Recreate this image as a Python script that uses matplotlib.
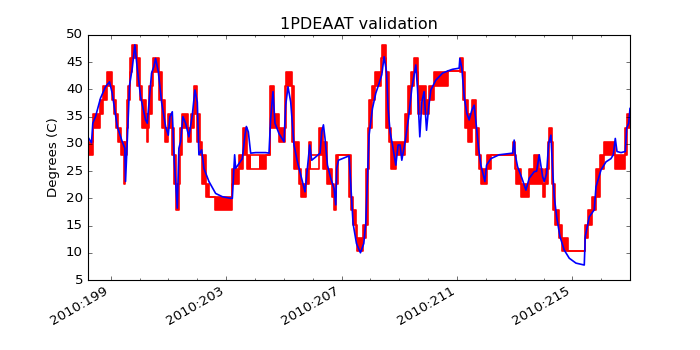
import matplotlib
matplotlib.use("Agg")
import matplotlib.pyplot as plt
from matplotlib.ticker import FixedLocator, MultipleLocator, FuncFormatter

plt.style.use("classic")

title = "1PDEAAT validation"
ylabel = "Degrees (C)"
year = 2010
major_days = [199, 203, 207, 211, 215]
xlim = (198.195, 216.995)

# telemetry (red): quantised steps; where it toggles between two
# levels the segment gets a low and a high value
red_t = [198.195, 198.369, 198.612, 198.716, 198.854, 199.028, 199.115, 199.184, 199.253, 199.340,
         199.444, 199.503, 199.548, 199.600, 199.670, 199.746, 199.912, 199.999, 200.068, 200.207,
         200.259, 200.294, 200.329, 200.415, 200.467, 200.658, 200.762, 200.866, 200.981, 201.119,
         201.178, 201.248, 201.352, 201.404, 201.473, 201.681, 201.768, 201.883, 202.000, 202.080,
         202.174, 202.288, 202.403, 202.611, 203.214, 203.443, 203.596, 203.735, 203.849, 204.137,
         204.370, 204.508, 204.647, 204.831, 205.039, 205.088, 205.271, 205.351, 205.525, 205.601,
         205.781, 205.871, 205.930, 206.218, 206.357, 206.510, 206.659, 206.746, 206.822, 206.867,
         207.259, 207.335, 207.387, 207.491, 207.550, 207.751, 207.838, 207.907, 207.960, 208.064,
         208.168, 208.358, 208.417, 208.532, 208.646, 208.723, 208.879, 209.201, 209.319, 209.416,
         209.513, 209.631, 209.711, 209.805, 209.919, 210.034, 210.207, 210.672, 211.099, 211.203,
         211.289, 211.376, 211.515, 211.654, 211.768, 211.844, 212.025, 212.174, 212.927, 213.006,
         213.058, 213.214, 213.502, 213.665, 213.828, 213.967, 214.057, 214.151, 214.186, 214.290,
         214.335, 214.411, 214.522, 214.637, 214.834, 215.445, 215.538, 215.677, 215.816, 215.955,
         216.104, 216.458, 216.832, 216.891]
red_end = 216.995
red_lo = [27.9, 33.0, 35.5, 38.1, 40.7, 38.1, 35.5, 33.0, 30.4, 27.9,
          22.7, 27.9, 33.0, 38.1, 43.2, 45.7, 40.7, 38.1, 33.0, 33.0,
          30.4, 33.0, 35.5, 40.7, 43.2, 38.1, 33.0, 30.4, 33.0, 27.9,
          22.7, 17.9, 22.7, 27.9, 33.0, 30.4, 33.0, 35.5, 30.4, 27.9,
          22.7, 20.2, 20.2, 17.9, 22.7, 25.4, 27.9, 25.4, 25.4, 25.4,
          27.9, 33.0, 33.0, 30.4, 33.0, 40.7, 30.4, 25.4, 22.7, 20.2,
          22.7, 25.4, 25.4, 27.9, 25.4, 22.7, 20.2, 17.9, 22.7, 27.9,
          20.2, 17.9, 15.1, 12.7, 10.3, 12.7, 15.1, 25.4, 33.0, 38.1,
          40.7, 43.2, 45.7, 33.0, 30.4, 25.4, 27.9, 30.4, 35.5, 40.7,
          43.2, 35.5, 38.1, 35.5, 35.5, 38.1, 40.7, 43.4, 43.2, 38.1,
          33.0, 30.4, 33.0, 27.9, 25.4, 22.7, 25.4, 27.9, 27.9, 25.4,
          22.7, 20.2, 22.7, 22.7, 22.7, 20.2, 22.7, 25.4, 30.4, 22.7,
          17.9, 15.1, 12.7, 10.3, 10.3, 12.7, 15.1, 17.9, 20.2, 25.4,
          27.9, 25.4, 27.9, 33.0]
red_hi = [30.4, 35.5, 38.1, 40.7, 43.2, 40.7, 38.1, 35.5, 33.0, 30.4,
          27.9, 30.4, 38.1, 40.7, 45.7, 48.2, 45.7, 40.7, 38.1, 35.5,
          33.0, 35.5, 40.7, 43.2, 45.7, 43.2, 38.1, 33.0, 35.5, 33.0,
          27.9, 22.7, 27.9, 33.0, 35.5, 33.0, 35.5, 40.7, 35.5, 30.4,
          27.9, 22.7, 20.2, 20.2, 25.4, 27.9, 33.0, 27.9, 27.9, 27.9,
          27.9, 40.7, 35.5, 33.0, 40.7, 43.2, 40.7, 30.4, 25.4, 22.7,
          25.4, 30.4, 27.9, 33.0, 30.4, 25.4, 22.7, 20.2, 27.9, 27.9,
          27.9, 20.2, 17.9, 15.1, 12.7, 15.1, 25.4, 33.0, 38.1, 40.7,
          43.2, 45.7, 48.2, 43.2, 33.0, 30.4, 30.4, 35.5, 40.7, 43.2,
          45.7, 40.7, 40.7, 40.7, 38.1, 40.7, 43.2, 43.4, 45.7, 43.2,
          38.1, 35.5, 38.1, 33.0, 27.9, 25.4, 27.9, 27.9, 30.4, 27.9,
          25.4, 22.7, 25.4, 27.9, 25.4, 22.7, 25.4, 30.4, 33.0, 30.4,
          22.7, 17.9, 15.1, 12.7, 10.3, 15.1, 17.9, 20.2, 25.4, 27.9,
          30.4, 27.9, 33.0, 35.5]
# segments where the toggling is sparse (outline only)
red_open = [203.849, 205.930]

# model (blue)
blue_t = [198.240, 198.334, 198.379, 198.473, 198.646, 198.820, 198.958, 199.052, 199.226, 199.399,
          199.489, 199.513, 199.572, 199.652, 199.746, 199.836, 199.919, 200.034, 200.207, 200.266,
          200.415, 200.495, 200.554, 200.648, 200.762, 200.901, 200.995, 201.050, 201.133, 201.203,
          201.307, 201.362, 201.421, 201.501, 201.595, 201.709, 201.827, 201.917, 202.000, 202.056,
          202.150, 202.229, 202.403, 202.635, 202.868, 203.156, 203.214, 203.294, 203.329, 203.443,
          203.561, 203.652, 203.700, 203.769, 203.849, 204.023, 204.370, 204.484, 204.543, 204.623,
          204.692, 204.831, 205.004, 205.063, 205.143, 205.237, 205.351, 205.469, 205.584, 205.733,
          205.816, 205.896, 205.965, 206.104, 206.253, 206.312, 206.371, 206.426, 206.510, 206.624,
          206.739, 206.798, 206.832, 206.891, 207.030, 207.259, 207.318, 207.398, 207.516, 207.654,
          207.769, 207.838, 207.918, 207.953, 208.070, 208.185, 208.299, 208.393, 208.473, 208.556,
          208.612, 208.681, 208.764, 208.879, 208.958, 209.028, 209.087, 209.201, 209.319, 209.434,
          209.513, 209.572, 209.631, 209.711, 209.781, 209.860, 209.944, 210.013, 210.093, 210.266,
          210.499, 210.682, 210.845, 211.074, 211.099, 211.168, 211.248, 211.341, 211.421, 211.515,
          211.595, 211.678, 211.747, 211.827, 211.966, 212.025, 212.174, 212.462, 212.927, 212.982,
          213.017, 213.100, 213.249, 213.388, 213.502, 213.676, 213.759, 213.849, 213.967, 214.023,
          214.106, 214.175, 214.255, 214.314, 214.370, 214.453, 214.567, 214.716, 214.890, 215.122,
          215.410, 215.445, 215.584, 215.757, 215.816, 215.989, 216.163, 216.336, 216.416, 216.485,
          216.544, 216.683, 216.832, 216.881, 216.950, 216.995]
blue_v = [31.0, 30.2, 33.8, 35.0, 38.4, 40.5, 41.4, 39.3, 33.2, 30.4,
          29.2, 23.1, 30.4, 40.8, 43.9, 48.2, 43.9, 38.7, 34.4, 33.8,
          43.0, 44.2, 45.7, 43.3, 37.7, 33.2, 31.6, 35.0, 35.9, 26.7,
          18.2, 29.2, 30.4, 35.0, 33.8, 31.3, 35.3, 39.9, 37.7, 28.0,
          28.9, 25.5, 23.1, 20.9, 20.3, 20.0, 20.0, 28.0, 25.5, 26.4,
          27.3, 31.6, 33.2, 32.2, 28.3, 28.4, 28.4, 28.3, 34.7, 39.6,
          33.8, 31.9, 30.4, 37.1, 40.5, 37.7, 29.8, 26.7, 24.3, 21.2,
          25.5, 29.8, 27.0, 27.6, 28.3, 32.2, 33.5, 31.0, 26.1, 23.7,
          21.8, 18.8, 25.5, 27.0, 27.3, 27.8, 22.4, 15.4, 11.7, 10.0,
          11.7, 15.4, 26.4, 31.6, 36.5, 39.3, 41.1, 42.7, 46.0, 43.3,
          36.5, 32.2, 29.8, 26.1, 29.8, 29.8, 27.0, 30.4, 34.7, 40.2,
          42.7, 44.5, 40.2, 31.3, 37.7, 39.6, 32.5, 36.5, 39.9, 41.7,
          43.0, 43.4, 43.7, 43.9, 45.7, 43.9, 38.7, 35.6, 34.4, 36.2,
          37.1, 32.9, 29.2, 26.1, 23.1, 26.1, 27.3, 28.0, 28.3, 30.7,
          28.0, 25.8, 23.7, 21.5, 23.7, 24.9, 25.0, 28.0, 24.0, 23.1,
          24.6, 30.1, 31.6, 25.2, 20.3, 16.6, 13.0, 10.5, 9.0, 8.1,
          7.75, 13.0, 16.6, 17.9, 22.1, 25.2, 26.7, 27.3, 28.0, 31.0,
          28.6, 28.4, 28.6, 32.9, 33.8, 36.5]

fig, ax = plt.subplots(figsize=(8.75, 4.375), dpi=80)

# telemetry: solid blocks where it toggles, plus low/high step lines
edges = red_t + [red_end]
for i in range(len(red_t)):
    if red_hi[i] > red_lo[i] and red_t[i] not in red_open:
        ax.fill_between([edges[i], edges[i + 1]], red_lo[i], red_hi[i],
                        color="r", linewidth=0)
ax.step(edges, red_lo + [red_lo[-1]], where="post", color="r", lw=1.5)
ax.step(edges, red_hi + [red_hi[-1]], where="post", color="r", lw=1.5)

# model
ax.plot(blue_t, blue_v, color="b", lw=1.5)

ax.set_xlim(*xlim)
ax.set_ylim(5, 50)
ax.set_yticks(range(5, 51, 5))
ax.xaxis.set_major_locator(FixedLocator(major_days))
ax.xaxis.set_minor_locator(MultipleLocator(1))
ax.xaxis.set_major_formatter(FuncFormatter(lambda x, pos: "%d:%03d" % (year, round(x))))
ax.set_title(title)
ax.set_ylabel(ylabel)
fig.autofmt_xdate()

fig.savefig("out.png", dpi=80, facecolor="white")
